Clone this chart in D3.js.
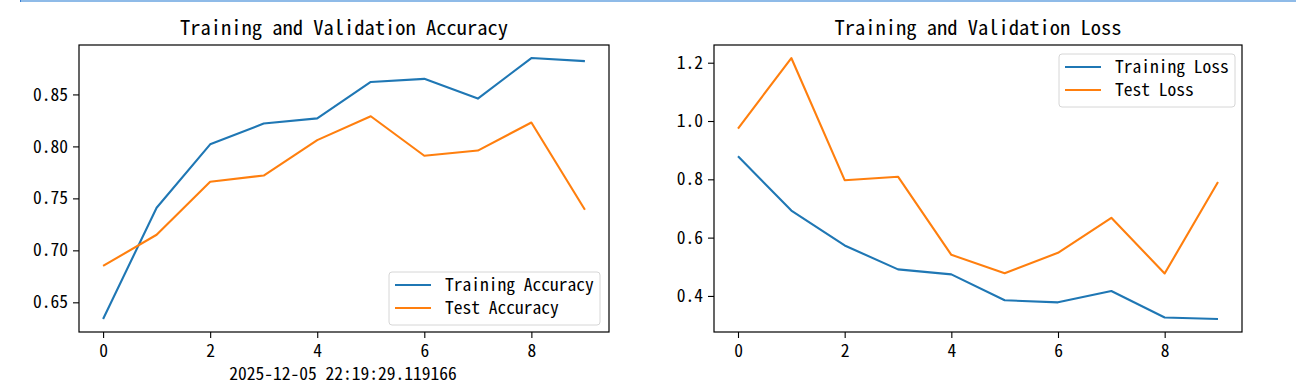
<!DOCTYPE html>
<html>
<head>
<meta charset="utf-8">
<script src="https://cdn.jsdelivr.net/npm/d3@7"></script>
<style>
  body { margin: 0; background: #fff; }
  svg text { font-family: "Noto Sans Mono CJK SC", "Noto Sans CJK SC", monospace; fill: #000; }
</style>
</head>
<body>
<div id="vis"></div>
<script>
// data
var epochs = [0, 1, 2, 3, 4, 5, 6, 7, 8, 9];
var trainAcc = [0.634, 0.741, 0.802, 0.822, 0.827, 0.862, 0.865, 0.846, 0.885, 0.882];
var testAcc = [0.685, 0.715, 0.766, 0.772, 0.806, 0.829, 0.791, 0.796, 0.823, 0.739];
var trainLoss = [0.879, 0.693, 0.573, 0.491, 0.474, 0.385, 0.378, 0.417, 0.326, 0.321];
var testLoss = [0.974, 1.216, 0.797, 0.809, 0.541, 0.478, 0.548, 0.668, 0.477, 0.791];
var xTicks = [0, 2, 4, 6, 8];
var accTicks = [0.65, 0.70, 0.75, 0.80, 0.85];
var lossTicks = [0.4, 0.6, 0.8, 1.0, 1.2];
var stamp = "2025-12-05 22:19:29.119166";

var W = 1296, H = 384;
var blue = "#1f77b4", orange = "#ff7f0e";

var svg = d3.select("#vis")
    .append("svg")
    .attr("width", W)
    .attr("height", H);

// border of the notebook cell at the very top
svg.append("rect").attr("x", 20).attr("y", 0).attr("width", W - 20).attr("height", 2).attr("fill", "#8fbbe8");
svg.append("rect").attr("x", 20).attr("y", 0).attr("width", 1).attr("height", 2).attr("fill", "#3b7fd1");

// matplotlib style 5% margins
function padded(vals) {
    var lo = d3.min(vals), hi = d3.max(vals), m = (hi - lo) * 0.05;
    return [lo - m, hi + m];
}

function panel(opt) {
    var g = svg.append("g").attr("transform", "translate(" + opt.left + "," + opt.top + ")");
    var w = opt.width, h = opt.height;

    var x = d3.scaleLinear().domain(padded(epochs)).range([0, w]);
    var y = d3.scaleLinear().domain(padded(opt.series[0].values.concat(opt.series[1].values))).range([h, 0]);

    var xAxis = g.append("g")
        .attr("transform", "translate(0," + h + ")")
        .call(d3.axisBottom(x).tickValues(xTicks).tickSize(6).tickPadding(7).tickFormat(d3.format("d")));
    var yAxis = g.append("g")
        .call(d3.axisLeft(y).tickValues(opt.ticks).tickSize(6).tickPadding(5).tickFormat(d3.format(opt.fmt)));

    [xAxis, yAxis].forEach(function (a) {
        a.select(".domain").remove();
        a.selectAll(".tick line").attr("stroke", "#000").attr("stroke-width", 1.1);
        a.selectAll(".tick text").attr("font-size", "17.5px").attr("fill", "#000");
    });

    var line = d3.line()
        .x(function (d, i) { return x(epochs[i]); })
        .y(function (d) { return y(d); });

    var plot = g.append("g");
    opt.series.forEach(function (s) {
        plot.append("path")
            .datum(s.values)
            .attr("d", line)
            .attr("fill", "none")
            .attr("stroke", s.color)
            .attr("stroke-width", 2.1)
            .attr("stroke-linejoin", "round");
    });

    g.append("rect")
        .attr("width", w).attr("height", h)
        .attr("fill", "none").attr("stroke", "#000").attr("stroke-width", 1.2);

    g.append("text")
        .attr("x", w / 2).attr("y", -10)
        .attr("text-anchor", "middle")
        .attr("font-size", "20.5px")
        .text(opt.title);

    // legend
    var lg = g.append("g").attr("transform", "translate(" + opt.legend.x + "," + opt.legend.y + ")");
    lg.append("rect")
        .attr("width", opt.legend.w).attr("height", 53)
        .attr("rx", 3)
        .attr("fill", "#fff").attr("fill-opacity", 0.8)
        .attr("stroke", "#d6d6d6").attr("stroke-width", 1);
    opt.series.forEach(function (s, i) {
        var yy = 13 + i * 23;
        lg.append("line")
            .attr("x1", 6).attr("x2", 42).attr("y1", yy).attr("y2", yy)
            .attr("stroke", s.color).attr("stroke-width", 2.1);
        lg.append("text")
            .attr("x", 56).attr("y", yy)
            .attr("dy", "0.35em")
            .attr("font-size", "17.5px")
            .text(s.name);
    });
    return g;
}

panel({
    left: 79, top: 45, width: 530, height: 287,
    title: "Training and Validation Accuracy",
    ticks: accTicks, fmt: ".2f",
    series: [
        { name: "Training Accuracy", values: trainAcc, color: blue },
        { name: "Test Accuracy", values: testAcc, color: orange }
    ],
    legend: { x: 310, y: 227, w: 211 }
});

panel({
    left: 714, top: 45, width: 528, height: 287,
    title: "Training and Validation Loss",
    ticks: lossTicks, fmt: ".1f",
    series: [
        { name: "Training Loss", values: trainLoss, color: blue },
        { name: "Test Loss", values: testLoss, color: orange }
    ],
    legend: { x: 345, y: 9, w: 176 }
});

svg.append("text")
    .attr("x", 343).attr("y", 380)
    .attr("text-anchor", "middle")
    .attr("font-size", "17.5px")
    .text(stamp);
</script>
</body>
</html>
